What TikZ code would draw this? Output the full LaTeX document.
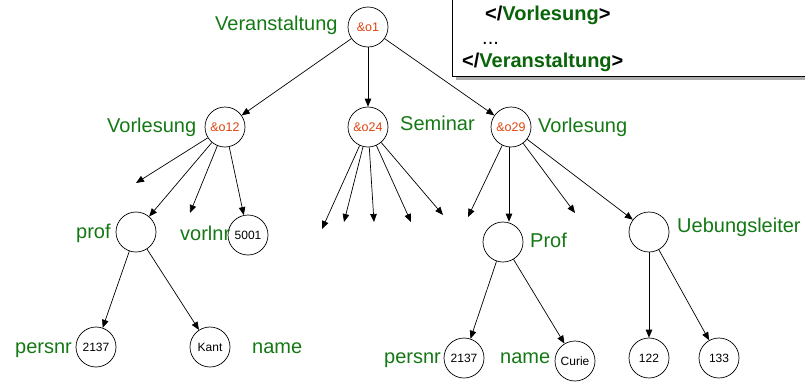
\documentclass[tikz,border=0pt]{standalone}
\usepackage{fontspec}
\setmainfont{Liberation Sans}
\usetikzlibrary{arrows.meta}
\definecolor{lblgreen}{RGB}{20,120,20}
\definecolor{oidred}{RGB}{221,68,17}
\definecolor{boxgreen}{RGB}{10,100,10}
\begin{document}
\begin{tikzpicture}[x=1pt,y=-1pt,
  circ/.style={draw, circle, minimum size=40pt, inner sep=0pt, line width=0.7pt},
  lbl/.style={anchor=base west, inner sep=0pt, text=lblgreen, font=\fontsize{20}{24}\selectfont},
  oid/.style={circ, text=oidred, font=\fontsize{12.5}{15}\selectfont},
  val/.style={circ, font=\fontsize{12}{14}\selectfont},
  arr/.style={-{Triangle[length=8pt,width=6.5pt]}, line width=0.7pt},
  boxtxt/.style={anchor=base west, inner sep=0pt, font=\fontsize{20}{24}\selectfont\bfseries},
  ]
\useasboundingbox (0,0) rectangle (805,381);

% object nodes
\node[oid] (o1)  at (368,27)  {\&o1};
\node[oid] (o12) at (225,127) {\&o12};
\node[oid] (o24) at (368,127) {\&o24};
\node[oid] (o29) at (511,127) {\&o29};
\node[circ] (prof1) at (136,232) {};
\node[val] (v5001) at (248,235) {5001};
\node[val] (p2137a) at (96,347) {2137};
\node[val] (kant) at (210,347) {Kant};
\node[circ] (prof2) at (503,242) {};
\node[circ] (ueb) at (649,232) {};
\node[val] (p2137b) at (464,358) {2137};
\node[val] (curie) at (575,361) {Curie};
\node[val] (v122) at (649,358) {122};
\node[val] (v133) at (719,358) {133};

% free ends
\coordinate (f1) at (136,183);
\coordinate (f2) at (190,213);
\coordinate (s1) at (322,229);
\coordinate (s2) at (344,222);
\coordinate (s3) at (374,222);
\coordinate (s4) at (411,222);
\coordinate (s5) at (443,215);
\coordinate (g1) at (468,217);
\coordinate (g2) at (575,213);

% labels
\node[lbl] (lVer) at (215,30) {Veranstaltung};
\node[lbl] (lVor1) at (107,132) {Vorlesung};
\node[lbl] (lSem) at (400,130) {Seminar};
\node[lbl] (lVor2) at (538,132) {Vorlesung};
\node[lbl] (lprof) at (76,238) {prof};
\node[lbl] (lvorlnr) at (180,240) {vorlnr};
\node[lbl] (lpersnr1) at (15,353) {persnr};
\node[lbl] (lname1) at (252,353) {name};
\node[lbl] (lProf) at (530,247) {Prof};
\node[lbl] (lUeb) at (677,232) {Uebungsleiter};
\node[lbl] (lpersnr2) at (384,363) {persnr};
\node[lbl] (lname2) at (500,363) {name};

% connectors
\draw[arr] (o1) -- (o12);
\draw[arr] (o1) -- (o24);
\draw[arr] (o1) -- (o29);

\draw[arr] (o12) -- (f1);
\draw[arr] (o12) -- (prof1);
\draw[arr] (o12) -- (f2);
\draw[arr] (o12) -- (v5001);

\draw[arr] (prof1) -- (p2137a);
\draw[arr] (prof1) -- (kant);

\draw[arr] (o24) -- (s1);
\draw[arr] (o24) -- (s2);
\draw[arr] (o24) -- (s3);
\draw[arr] (o24) -- (s4);
\draw[arr] (o24) -- (s5);

\draw[arr] (o29) -- (g1);
\draw[arr] ([xshift=-2pt]o29.south) -- ([xshift=-2pt]o29.south |- prof2.north);
\draw[arr] (o29) -- (g2);
\draw[arr] (o29) -- (ueb);

\draw[arr] (prof2) -- (p2137b);
\draw[arr] (prof2) -- (curie);
\draw[arr] (ueb) -- (v122);
\draw[arr] (ueb) -- (v133);

% XML box (top right)
\fill[gray!65] (456,-5) rectangle (812,80);
\draw[fill=white, line width=1pt] (452,-5) rectangle (812,76.5);
\node[boxtxt] (bt1) at (485,20) {</\textcolor{boxgreen}{Vorlesung}>};
\node[anchor=base west, inner sep=0pt, font=\fontsize{20}{24}\selectfont] (bt2) at (482,44) {...};
\node[boxtxt] (bt3) at (462,67) {</\textcolor{boxgreen}{Veranstaltung}>};
\end{tikzpicture}
\end{document}
